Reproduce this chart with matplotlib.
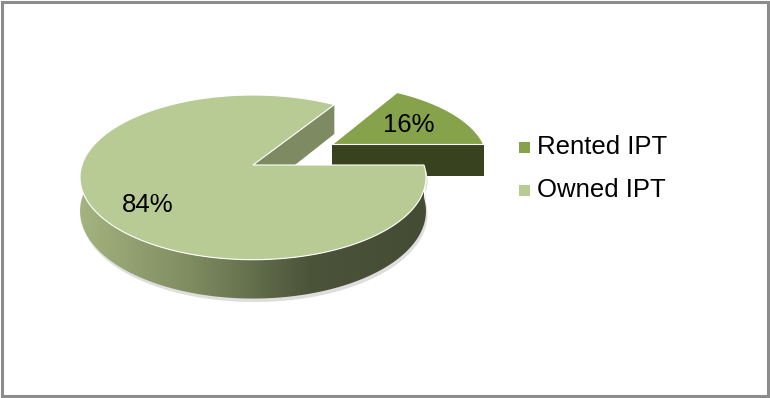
import numpy as np
import matplotlib.pyplot as plt
from matplotlib.patches import Polygon, Rectangle
from matplotlib.colors import LinearSegmentedColormap

labels = ["Rented IPT", "Owned IPT"]
shares = [16, 84]
top_colors = ["#86a24b", "#b8cb95"]
cut_colors = ["#38421e", "#7e8a62"]

plt.rcParams["font.family"] = ["Liberation Sans", "DejaVu Sans"]

fig = plt.figure(figsize=(7.7, 3.98), dpi=100)
ax = fig.add_axes([0, 0, 1, 1])

# pie geometry in pixel units (y grows downward), simple perspective
cx, cy = 253, 165
rx, ry = 171, 80.5
thick = 33
persp = 0.15
explode = [0.55, 0.0]
scale = [0.92, 1.0]
label_k = [0.62, 0.72]
label_nudge = [(0, 0), (8, 11)]


def proj(X, Z, h=0.0):
    # X to the right, Z away from the viewer, h downward (in slice heights)
    s = 1.0 / (1.0 + persp * np.asarray(Z))
    return np.column_stack([cx + rx * X * s, cy - ry * Z * s + h * thick * s])


def disk(c, t, s):
    return c[0] + s * np.cos(t), c[1] + s * np.sin(t)


fracs = np.array(shares) / sum(shares)
bounds = np.concatenate([[0], np.cumsum(fracs)]) * 2 * np.pi
wall_cmap = LinearSegmentedColormap.from_list("wall", ["#a4b37f", "#7c8a5f", "#4b5339", "#454c34"])

for i in range(len(shares)):
    t0, t1 = bounds[i], bounds[i + 1]
    mid = (t0 + t1) / 2
    s = scale[i]
    c = (explode[i] * np.cos(mid), explode[i] * np.sin(mid))
    z = 2 if i == 0 else 5

    # radial cut face at the start angle, it looks toward the viewer
    px, pz = disk(c, t0, s)
    face = np.vstack([proj(np.array([c[0], px]), np.array([c[1], pz])),
                      proj(np.array([px, c[0]]), np.array([pz, c[1]]), 1.0)])
    ax.add_patch(Polygon(face, closed=True, fc=cut_colors[i], ec="none", zorder=z))

    # curved outer wall on the front half, with a faint shadow below it
    a0, a1 = max(t0, np.pi - 0.3), min(t1, 2 * np.pi)
    if a1 > a0:
        tt = np.linspace(a0, a1, 300)
        X, Z = disk(c, tt, s)
        outline = np.vstack([proj(X, Z), proj(X[::-1], Z[::-1], 1.0)])
        shadow = outline + np.array([1.5, 3.5])
        ax.add_patch(Polygon(shadow, closed=True, fc="#dedede", ec="none", zorder=z - 0.5))
        wall = Polygon(outline, closed=True, fc="none", ec="none", zorder=z + 1)
        ax.add_patch(wall)
        grad = ax.imshow(np.linspace(0, 1, 256).reshape(1, -1), cmap=wall_cmap, aspect="auto",
                         extent=(outline[:, 0].min(), outline[:, 0].max(),
                                 outline[:, 1].max(), outline[:, 1].min()),
                         zorder=z + 1)
        grad.set_clip_path(wall)

    # top face
    tt = np.linspace(t0, t1, 300)
    X, Z = disk(c, tt, s)
    top = np.vstack([proj(np.array([c[0]]), np.array([c[1]])), proj(X, Z)])
    ax.add_patch(Polygon(top, closed=True, fc=top_colors[i], ec="white", lw=0.8, zorder=z + 2))

    lx, lz = disk(c, mid, s * label_k[i])
    lp = proj(np.array([lx]), np.array([lz]))[0]
    ax.text(lp[0] + label_nudge[i][0], lp[1] + label_nudge[i][1], f"{shares[i]}%",
            fontsize=18.5, ha="center", va="center", zorder=10)

# legend
for j, lab in enumerate(labels):
    y = 147 + j * 43
    ax.add_patch(Rectangle((519, y - 5.5), 11, 11, fc=top_colors[j], ec="none"))
    ax.text(537, y, lab, fontsize=18.5, ha="left", va="center")

# chart frame
ax.add_patch(Rectangle((1.5, 1.5), 766, 394, fill=False, ec="#8c8c8c", lw=2.2, zorder=20))

ax.set_xlim(0, 770)
ax.set_ylim(398, 0)
ax.axis("off")

fig.savefig("out.png", dpi=100)
